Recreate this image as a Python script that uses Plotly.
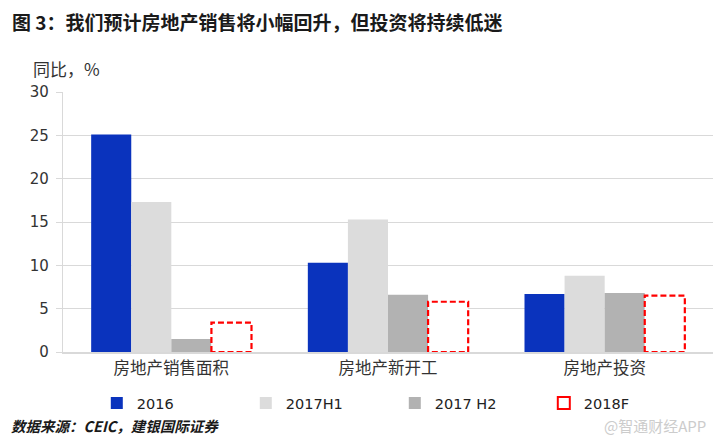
import plotly.graph_objects as go

categories = ["房地产销售面积", "房地产新开工", "房地产投资"]
series_names = ["2016", "2017H1", "2017 H2", "2018F"]
v2016 = [25.1, 10.3, 6.7]
v2017h1 = [17.3, 15.3, 8.8]
v2017h2 = [1.5, 6.6, 6.8]
v2018f = [3.4, 5.8, 6.5]
colors = ["#0a33bd", "#dcdcdc", "#b2b2b2", "#ff0000"]
yticks = [0, 5, 10, 15, 20, 25, 30]

BARGAP = 0.26
NSER = 4
xpos = list(range(len(categories)))

CJK = "Noto Sans CJK SC"
NUMF = "DejaVu Sans, Noto Sans CJK SC"

fig = go.Figure()
for name, vals, col in zip(series_names[:3], [v2016, v2017h1, v2017h2], colors[:3]):
    fig.add_trace(go.Bar(x=xpos, y=vals, name=name, marker=dict(color=col, line=dict(width=0))))

# 2018F: white bars with dashed red outline
fig.add_trace(go.Bar(x=xpos, y=v2018f, name=series_names[3], showlegend=False,
                     marker=dict(color="white", line=dict(width=0))))

bw = (1 - BARGAP) / NSER
ox, oy = [], []
for i, v in zip(xpos, v2018f):
    x1 = i + (1 - BARGAP) / 2
    x0 = x1 - bw
    ox += [x0, x0, x1, x1, x0, None]
    oy += [0, v, v, 0, 0, None]
fig.add_trace(go.Scatter(x=ox, y=oy, mode="lines", showlegend=False, hoverinfo="skip",
                         line=dict(color=colors[3], width=2.2, dash="6px,3px")))
# legend entry for 2018F
fig.add_trace(go.Scatter(x=[None], y=[None], mode="markers", name=series_names[3],
                         marker=dict(symbol="square-open", size=10, color=colors[3],
                                     line=dict(width=2, color=colors[3]))))

fig.update_layout(
    width=717, height=439,
    margin=dict(l=63, r=4, t=92, b=87),
    paper_bgcolor="white", plot_bgcolor="white",
    barmode="group", bargap=BARGAP, bargroupgap=0,
    title=dict(text="<b>图 3：我们预计房地产销售将小幅回升，但投资将持续低迷</b>",
               x=12/717, xanchor="left", xref="container",
               y=1-23/439, yanchor="middle", yref="container",
               font=dict(family=CJK, size=19, color="#1a1a1a")),
    xaxis=dict(tickvals=xpos, ticktext=categories, range=[-0.5, len(categories)-0.5],
               showgrid=False, showline=True, linecolor="#d9d9d9", linewidth=1.5,
               ticks="", zeroline=False,
               tickfont=dict(family=CJK, size=16.5, color="#333333")),
    yaxis=dict(range=[0, 30], tickvals=yticks, showgrid=True, gridcolor="#d9d9d9", gridwidth=1.2,
               showline=True, linecolor="#d9d9d9", linewidth=1.2, ticks="outside", ticklen=6,
               tickcolor="#d9d9d9", zeroline=False, ticklabelstandoff=4,
               tickfont=dict(family=NUMF, size=15, color="#333333")),
    legend=dict(orientation="h", x=0.052, xanchor="left", y=-0.196, yanchor="middle",
                entrywidth=104, entrywidthmode="pixels",
                font=dict(family=NUMF, size=14.5, color="#222222"),
                itemsizing="constant", traceorder="normal"),
    annotations=[
        dict(text="同比，%", xref="paper", yref="paper", x=-0.049, y=1.092,
             xanchor="left", yanchor="middle", showarrow=False,
             font=dict(family=CJK, size=17, color="#333333")),
        dict(text="<b><i>数据来源：CEIC，建银国际证券</i></b>", xref="paper", yref="paper",
             x=-0.083, y=-0.281, xanchor="left", yanchor="middle", showarrow=False,
             font=dict(family=CJK, size=14.5, color="#1a1a1a")),
        dict(text="@智通财经APP", xref="paper", yref="paper",
             x=0.992, y=-0.281, xanchor="right", yanchor="middle", showarrow=False,
             font=dict(family=CJK, size=15, color="#cccccc")),
    ],
    showlegend=True,
)

fig.write_html("out.html", config={"displayModeBar": False},
               post_script="document.body.style.margin='0';document.body.style.padding='0';")
